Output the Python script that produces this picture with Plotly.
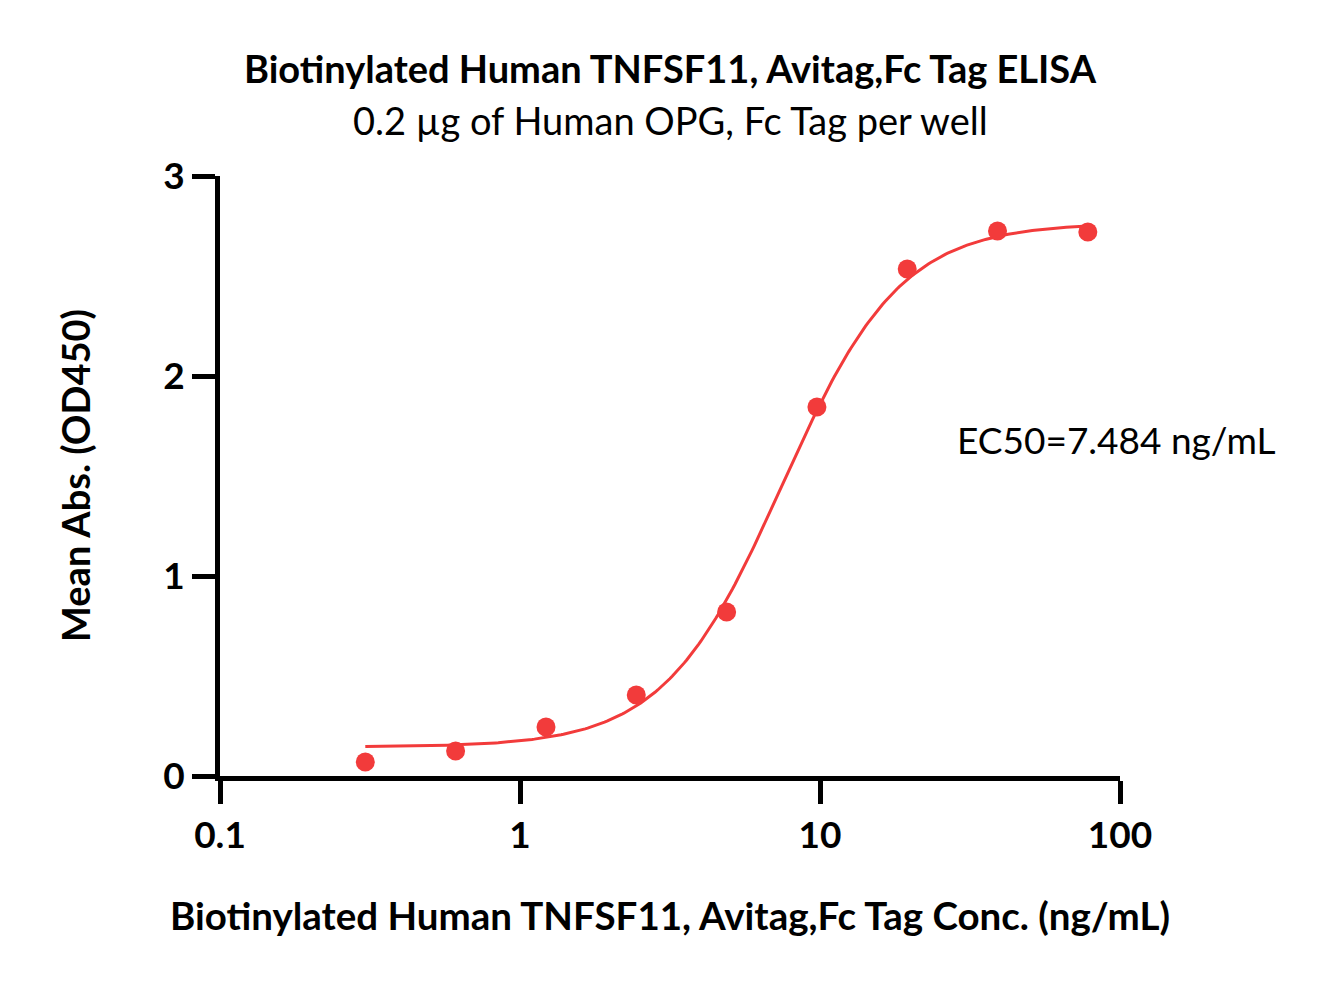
import numpy as np
import plotly.graph_objects as go

# Data
conc = [0.305, 0.610, 1.221, 2.441, 4.883, 9.766, 19.531, 39.063, 78.125]
od450 = [0.07, 0.125, 0.245, 0.405, 0.82, 1.845, 2.535, 2.725, 2.72]

bottom = 0.145
top = 2.765
ec50 = 7.484
hill = 2.2

x_ticks = [0.1, 1, 10, 100]
x_tick_labels = ["0.1", "1", "10", "100"]
y_ticks = [0, 1, 2, 3]

red = "#F23B3B"
font_family = "Lato, 'Open Sans', sans-serif"

xf = np.logspace(np.log10(conc[0]), np.log10(conc[-1]), 300)
yf = bottom + (top - bottom) / (1 + (ec50 / xf) ** hill)

# page has an 8px body margin
OFF = 8
W, H = 1318, 981
l, t = 220 - OFF, 176 - OFF
pw, ph = 900, 600
r = W - l - pw
b = H - t - ph

fig = go.Figure()
fig.add_trace(go.Scatter(x=xf, y=yf, mode="lines", line=dict(color=red, width=3),
                         hoverinfo="skip", showlegend=False))
fig.add_trace(go.Scatter(x=conc, y=od450, mode="markers",
                         marker=dict(color=red, size=19, line=dict(width=0)),
                         showlegend=False))


def ann(text, px_x, px_y, size, angle=0):
    return dict(text=text, x=(px_x - OFF - l) / pw, y=(H - b - (px_y - OFF)) / ph,
                xref="paper", yref="paper", showarrow=False, textangle=angle,
                xanchor="center", yanchor="middle",
                font=dict(size=size, family=font_family, color="black"))


fig.update_layout(
    width=W, height=H,
    margin=dict(l=l, r=r, t=t, b=b, autoexpand=False),
    plot_bgcolor="white", paper_bgcolor="white",
    font=dict(family=font_family, color="black"),
    xaxis=dict(type="log", range=[-1, 2], tickvals=x_ticks, ticktext=x_tick_labels,
               showline=True, linecolor="black", linewidth=5,
               ticks="outside", ticklen=23, tickwidth=5, tickcolor="black",
               showgrid=False, zeroline=False, automargin=False,
               tickfont=dict(size=37, family=font_family, weight="bold")),
    yaxis=dict(range=[0, 3], tickvals=y_ticks,
               showline=True, linecolor="black", linewidth=5,
               ticks="outside", ticklen=23, tickwidth=5, tickcolor="black",
               showgrid=False, zeroline=False, automargin=False,
               tickfont=dict(size=37, family=font_family, weight="bold")),
    annotations=[
        ann("<b>Biotinylated Human TNFSF11, Avitag,Fc Tag ELISA</b>", 670, 68, 38),
        ann("0.2 µg of Human OPG, Fc Tag per well", 670, 120, 38),
        ann("EC50=7.484 ng/mL", 1116, 440, 37),
        ann("<b>Biotinylated Human TNFSF11, Avitag,Fc Tag Conc. (ng/mL)</b>", 670, 915, 38.5),
        ann("<b>Mean Abs. (OD450)</b>", 75, 476, 38, angle=-90),
    ],
)

fig.write_html("out.html")
